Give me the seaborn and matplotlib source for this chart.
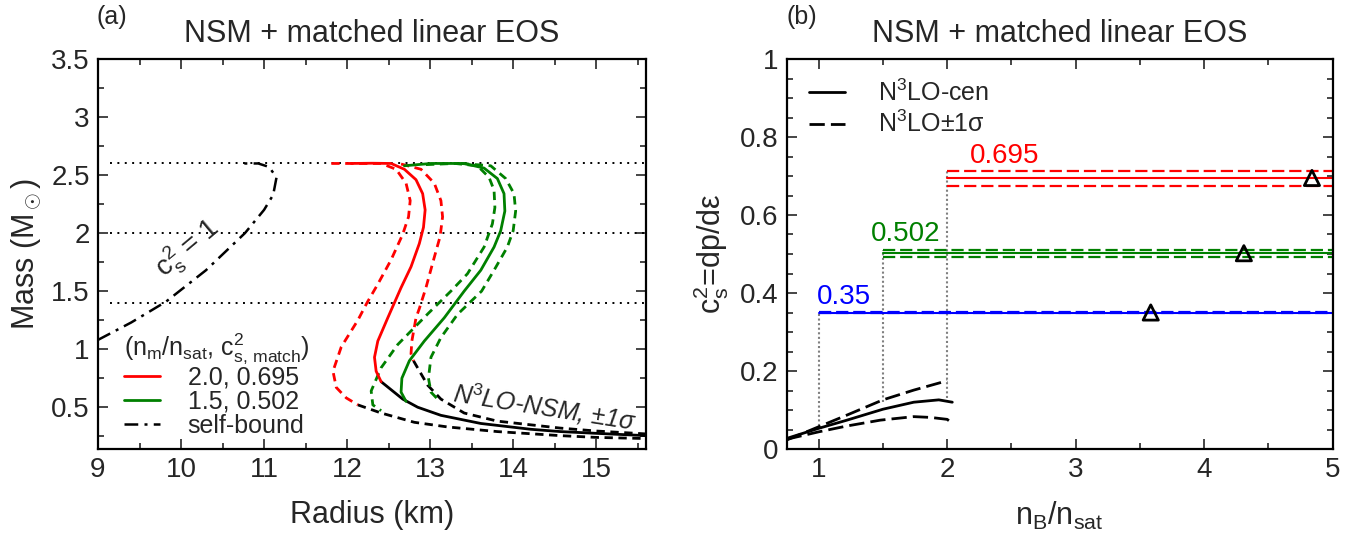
import numpy as np
import pandas as pd
import matplotlib
matplotlib.use("Agg")
import matplotlib.pyplot as plt
import seaborn as sns
from matplotlib.lines import Line2D
from matplotlib.ticker import MultipleLocator

# ---------------- Panel (a) data: mass-radius curves ----------------
red_R = [12.05, 12.30, 12.53, 12.69, 12.83, 12.91, 12.94, 12.92, 12.87, 12.77, 12.65, 12.49, 12.37, 12.33, 12.35, 12.41]
red_M = [2.600, 2.602, 2.600, 2.55, 2.46, 2.34, 2.20, 2.05, 1.91, 1.71, 1.53, 1.27, 1.07, 0.93, 0.81, 0.72]

red_lo_R = [11.81, 12.41, 12.59, 12.71, 12.76, 12.74, 12.67, 12.53, 12.37, 12.24, 12.13, 11.93, 11.83, 11.87, 11.99, 12.13]
red_lo_M = [2.600, 2.600, 2.55, 2.43, 2.28, 2.14, 1.99, 1.77, 1.56, 1.40, 1.25, 1.02, 0.81, 0.67, 0.58, 0.52]

red_hi_R = [12.65, 12.89, 13.05, 13.13, 13.15, 13.12, 13.03, 12.95, 12.87, 12.83, 12.78, 12.77, 12.80]
red_hi_M = [2.595, 2.55, 2.43, 2.28, 2.14, 1.97, 1.74, 1.53, 1.35, 1.27, 1.07, 0.96, 0.90]

green_R = [12.69, 13.01, 13.41, 13.65, 13.81, 13.89, 13.90, 13.85, 13.77, 13.61, 13.41, 13.17, 12.93, 12.75, 12.66, 12.65, 12.71]
green_M = [2.58, 2.60, 2.60, 2.56, 2.47, 2.34, 2.19, 2.02, 1.88, 1.68, 1.50, 1.27, 1.07, 0.90, 0.75, 0.63, 0.55]

green_lo_R = [12.95, 13.30, 13.57, 13.71, 13.77, 13.78, 13.75, 13.65, 13.45, 13.25, 12.98, 12.61, 12.41, 12.29, 12.31, 12.41]
green_lo_M = [2.59, 2.60, 2.58, 2.48, 2.37, 2.22, 2.08, 1.88, 1.65, 1.50, 1.31, 1.04, 0.84, 0.64, 0.52, 0.47]

green_hi_R = [13.37, 13.73, 13.91, 14.01, 14.03, 14.00, 13.93, 13.77, 13.62, 13.33, 13.13, 13.01, 12.98, 13.01, 13.09]
green_hi_M = [2.60, 2.58, 2.47, 2.34, 2.19, 2.02, 1.88, 1.68, 1.50, 1.30, 1.10, 0.93, 0.75, 0.63, 0.57]

nsm_R = [12.41, 12.67, 12.85, 13.13, 13.61, 14.21, 14.57, 15.00, 15.60]
nsm_M = [0.72, 0.57, 0.50, 0.43, 0.36, 0.31, 0.29, 0.275, 0.255]

nsm_hi_R = [12.80, 12.97, 13.13, 13.41, 13.81, 14.57, 15.00, 15.60]
nsm_hi_M = [0.90, 0.69, 0.57, 0.45, 0.38, 0.32, 0.295, 0.27]

nsm_lo_R = [12.13, 12.41, 12.81, 13.21, 13.81, 14.57, 15.00, 15.60]
nsm_lo_M = [0.52, 0.45, 0.37, 0.33, 0.29, 0.255, 0.24, 0.23]

selfb_R = [9.00, 9.40, 9.82, 10.30, 10.77, 11.00, 11.11, 11.15, 11.06, 10.93, 10.69]
selfb_M = [1.08, 1.23, 1.41, 1.68, 2.00, 2.20, 2.33, 2.48, 2.57, 2.60, 2.60]

mass_refs = [1.4, 2.0, 2.6]
legend_a_labels = ["2.0, 0.695", "1.5, 0.502", "self-bound"]

# ---------------- Panel (b) data: sound speed ----------------
nB_low = [0.75, 1.00, 1.22, 1.50, 1.74, 1.935, 2.04]
cs2_cen = [0.027, 0.053, 0.074, 0.102, 0.120, 0.126, 0.120]
nB_hi = [0.75, 1.00, 1.22, 1.50, 1.74, 2.00]
cs2_hi = [0.023, 0.057, 0.087, 0.126, 0.151, 0.175]
nB_lo = [0.75, 1.00, 1.22, 1.48, 1.74, 1.87, 2.00, 2.04]
cs2_lo = [0.025, 0.044, 0.059, 0.074, 0.083, 0.081, 0.076, 0.066]

n_match = [1.0, 1.5, 2.0]
cs2_match = [0.35, 0.502, 0.695]
cs2_match_lo = [0.349, 0.493, 0.675]
cs2_match_hi = [0.351, 0.510, 0.713]
match_labels = ["0.35", "0.502", "0.695"]
match_colors = ["blue", "green", "red"]
drop_bottom = [0.06, 0.12, 0.13]
tri_n = [3.585, 4.31, 4.84]
n_end = 5.0

# ---------------- Style ----------------
sns.set_theme(style="ticks")
plt.rcParams['font.family'] = ['Liberation Sans', 'DejaVu Sans']
plt.rcParams['mathtext.fontset'] = 'custom'
plt.rcParams['mathtext.rm'] = 'Liberation Sans'
plt.rcParams['mathtext.it'] = 'Liberation Sans:italic'
plt.rcParams['mathtext.sf'] = 'Liberation Sans'
plt.rcParams['axes.linewidth'] = 1.6

TICK = 20
LEG = 18
LAB = 22

fig = plt.figure(figsize=(13.72, 5.46), dpi=100)
ax1 = fig.add_axes([98 / 1372, 1 - 449 / 546, (646 - 98) / 1372, (449 - 59) / 546])
ax2 = fig.add_axes([786.6 / 1372, 1 - 449 / 546, (1332.5 - 786.6) / 1372, (449 - 59) / 546])

DASH = (0, (3, 2))
DASH_B = (0, (5.5, 2.2))
DASHDOT = (0, (5.5, 2.5, 1.2, 2.5))


def curve(ax, x, y, color, ls="-", lw=2.0, z=2):
    sns.lineplot(x=x, y=y, sort=False, estimator=None, color=color,
                 linestyle=ls, lw=lw, ax=ax, legend=False, zorder=z)


# ---- panel (a)
for m in mass_refs:
    curve(ax1, [9.15, 15.6], [m, m], "black", ls=(0, (1, 2.8)), lw=1.4, z=1)

curve(ax1, selfb_R, selfb_M, "black", ls=DASHDOT, lw=1.8)
curve(ax1, nsm_hi_R, nsm_hi_M, "black", ls=DASH)
curve(ax1, nsm_lo_R, nsm_lo_M, "black", ls=DASH)
curve(ax1, nsm_R, nsm_M, "black")
curve(ax1, red_lo_R, red_lo_M, "red", ls=DASH)
curve(ax1, red_hi_R, red_hi_M, "red", ls=DASH)
curve(ax1, green_lo_R, green_lo_M, "green", ls=DASH)
curve(ax1, green_hi_R, green_hi_M, "green", ls=DASH)
curve(ax1, red_R, red_M, "red")
curve(ax1, green_R, green_M, "green")

ax1.set_xlim(9, 15.6)
ax1.set_ylim(0.14, 3.5)
ax1.xaxis.set_major_locator(MultipleLocator(1))
ax1.xaxis.set_minor_locator(MultipleLocator(0.5))
ax1.yaxis.set_minor_locator(MultipleLocator(0.25))
ax1.set_yticks([0.5, 1, 1.5, 2, 2.5, 3, 3.5])
ax1.set_yticklabels(["0.5", "1", "1.5", "2", "2.5", "3", "3.5"])
ax1.set_xlabel("Radius (km)", fontsize=LAB, labelpad=12)
ax1.set_ylabel(r"Mass (M$_\odot$)", fontsize=LAB, labelpad=6)
ax1.set_title("NSM + matched linear EOS", fontsize=LAB, pad=12)

ax1.text(10.08, 1.86, r"c$_\mathrm{s}^2$ = 1", rotation=40, fontsize=20,
         ha="center", va="center")
ax1.text(14.38, 0.50, r"N$^3$LO-NSM, $\pm$1$\sigma$", rotation=-9, fontsize=LEG,
         style="italic", ha="center", va="center")

hA = [Line2D([], [], color="red", lw=2),
      Line2D([], [], color="green", lw=2),
      Line2D([], [], color="black", lw=1.8, ls=DASHDOT)]
ax1.legend(hA, legend_a_labels,
           title=r"(n$_\mathrm{m}$/n$_\mathrm{sat}$, c$^2_\mathrm{s,\,match}$)",
           loc="lower left", bbox_to_anchor=(0.02, -0.01), frameon=False,
           fontsize=LEG, title_fontsize=LEG, handlelength=1.45,
           handletextpad=1.1, labelspacing=0.0, borderaxespad=0.2,
           alignment="left")

# ---- panel (b)
for n, lo, c in zip(n_match, drop_bottom, cs2_match_hi):
    curve(ax2, [n, n], [lo, c], "gray", ls=(0, (1, 1.2)), lw=1.5, z=1)

for n, c, lo, hi, col in zip(n_match, cs2_match, cs2_match_lo, cs2_match_hi, match_colors):
    curve(ax2, [n, n_end], [c, c], col, lw=1.5)
    curve(ax2, [n, n_end], [lo, lo], col, ls=DASH_B, lw=1.6)
    curve(ax2, [n, n_end], [hi, hi], col, ls=DASH_B, lw=1.6)

curve(ax2, nB_low, cs2_cen, "black")
curve(ax2, nB_hi, cs2_hi, "black", ls=DASH_B)
curve(ax2, nB_lo, cs2_lo, "black", ls=DASH_B)

sns.scatterplot(x=tri_n, y=cs2_match, marker="^", s=120, facecolor="none",
                edgecolor="black", linewidth=2.0, ax=ax2, zorder=5, legend=False)

lab_pos = [(1.20, 0.39), (1.68, 0.552), (2.45, 0.752)]
for (x, y), t, col in zip(lab_pos, match_labels, match_colors):
    ax2.text(x, y, t, color=col, fontsize=TICK, ha="center", va="center")

ax2.set_xlim(0.75, 5)
ax2.set_ylim(0, 1)
ax2.xaxis.set_major_locator(MultipleLocator(1))
ax2.xaxis.set_minor_locator(MultipleLocator(0.5))
ax2.yaxis.set_minor_locator(MultipleLocator(0.05))
ax2.set_yticks([0, 0.2, 0.4, 0.6, 0.8, 1.0])
ax2.set_yticklabels(["0", "0.2", "0.4", "0.6", "0.8", "1"])
ax2.set_xlabel(r"n$_\mathrm{B}$/n$_\mathrm{sat}$", fontsize=LAB, labelpad=12)
ax2.set_ylabel(r"c$_\mathrm{s}^2$=dp/dε", fontsize=LAB, labelpad=6)
ax2.set_title("NSM + matched linear EOS", fontsize=LAB, pad=12)

hB = [Line2D([], [], color="black", lw=2),
      Line2D([], [], color="black", lw=2, ls=DASH_B)]
ax2.legend(hB, [r"N$^3$LO-cen", r"N$^3$LO$\pm$1σ"], loc="upper left",
           bbox_to_anchor=(0.0, 1.005), frameon=False, fontsize=LEG,
           handlelength=1.45, handletextpad=1.3, labelspacing=0.2)

for ax in (ax1, ax2):
    ax.tick_params(which="both", direction="in", top=True, right=True,
                   labelsize=TICK, width=1.2)
    ax.tick_params(which="major", length=7, pad=6)
    ax.tick_params(which="minor", length=4)
    for s in ax.spines.values():
        s.set_color("black")

fig.text(112 / 1372, 1 - 17 / 546, "(a)", fontsize=LEG, ha="center", va="center")
fig.text(802 / 1372, 1 - 17 / 546, "(b)", fontsize=LEG, ha="center", va="center")

fig.savefig("out.png", dpi=100)
